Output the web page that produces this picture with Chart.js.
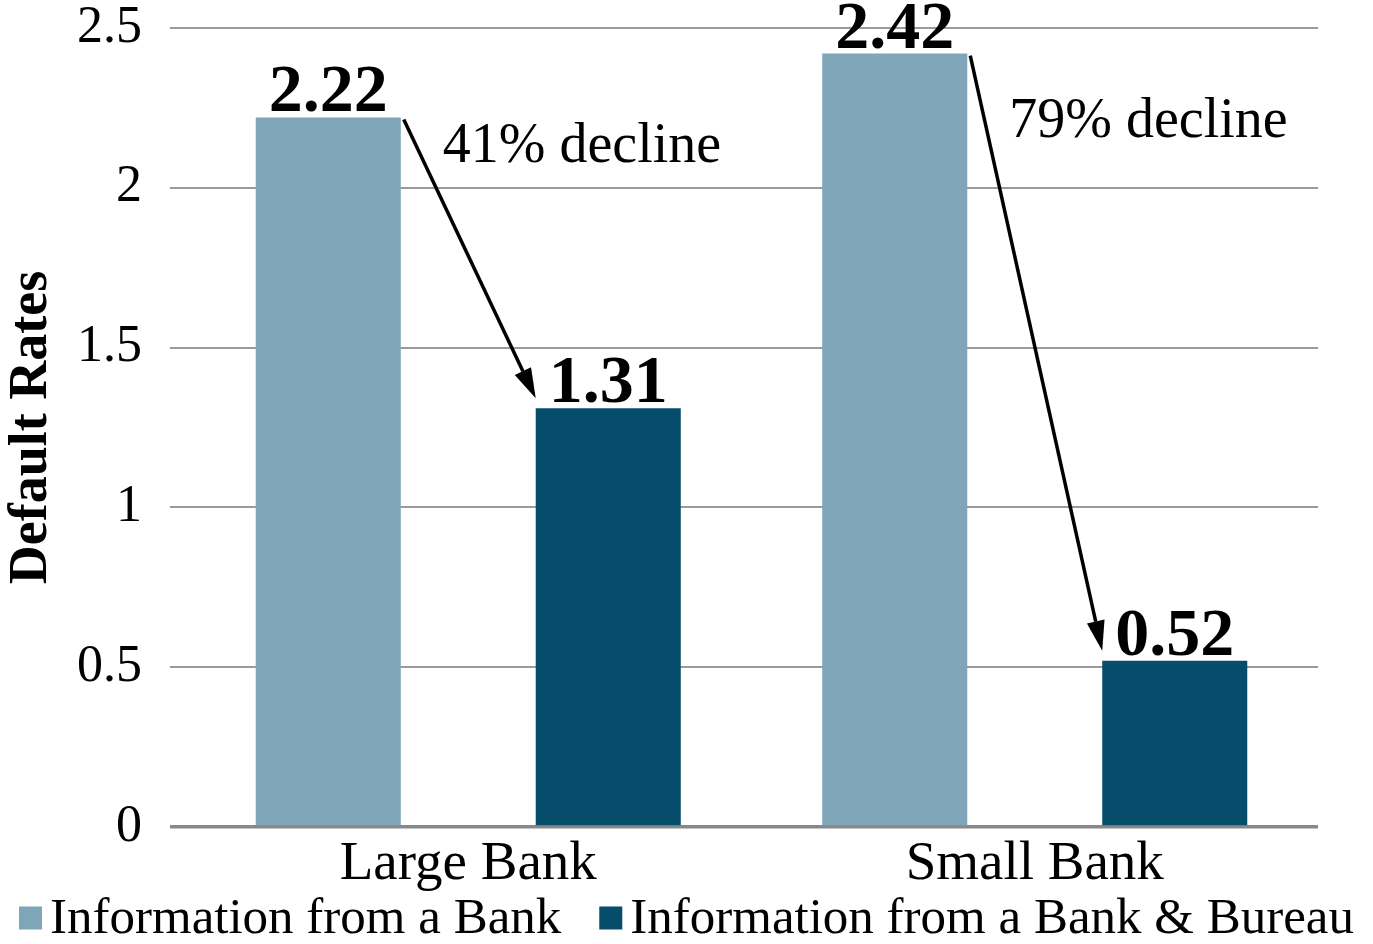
<!DOCTYPE html>
<html>
<head>
<meta charset="utf-8">
<title>Default Rates</title>
<script src="https://cdn.jsdelivr.net/npm/chart.js@4"></script>
<style>
  html, body { margin: 0; padding: 0; background: #fff; }
  #wrap { width: 1373px; height: 944px; }
</style>
</head>
<body>
<div id="wrap"><canvas id="chart"></canvas></div>
<script>
// Default rates by bank size, before and after adding bureau data
const categories = ['Large Bank', 'Small Bank'];
const seriesNames = ['Information from a Bank', 'Information from a Bank & Bureau'];
const bankOnly = [2.22, 2.42];
const bankAndBureau = [1.31, 0.52];
const declineNotes = ['41% decline', '79% decline'];
const noteLevels = [2.08, 2.16]; // text baseline of each note, axis units

const SERIF = '"Liberation Serif", "Times New Roman", serif';
const COLORS = ['#7fa5b8', '#064c6b'];

// Arrow with a filled head
function drawArrow(ctx, x0, y0, x1, y1) {
  const ang = Math.atan2(y1 - y0, x1 - x0);
  const head = 30, half = 9;
  const bx = x1 - head * Math.cos(ang), by = y1 - head * Math.sin(ang);
  ctx.beginPath();
  ctx.moveTo(x0, y0);
  ctx.lineTo(bx, by);
  ctx.lineWidth = 3.5;
  ctx.strokeStyle = '#000';
  ctx.stroke();
  ctx.beginPath();
  ctx.moveTo(x1, y1);
  ctx.lineTo(bx + half * Math.sin(ang), by - half * Math.cos(ang));
  ctx.lineTo(bx - half * Math.sin(ang), by + half * Math.cos(ang));
  ctx.closePath();
  ctx.fillStyle = '#000';
  ctx.fill();
}

// Value labels on top of the bars, plus the decline arrows and notes
const annotate = {
  id: 'annotate',
  afterDatasetsDraw(chart) {
    const ctx = chart.ctx;
    const yScale = chart.scales.y;
    const bars0 = chart.getDatasetMeta(0).data;
    const bars1 = chart.getDatasetMeta(1).data;
    ctx.save();
    ctx.fillStyle = '#000';
    ctx.font = 'bold 68px ' + SERIF;
    ctx.textAlign = 'center';
    ctx.textBaseline = 'alphabetic';
    bars0.forEach((bar, i) => ctx.fillText(bankOnly[i].toFixed(2), bar.x, bar.y - 6));
    bars1.forEach((bar, i) => ctx.fillText(bankAndBureau[i].toFixed(2), bar.x, bar.y - 6));

    categories.forEach((c, i) => {
      const a = bars0[i], b = bars1[i];
      drawArrow(ctx, a.x + a.width / 2 + 3, a.y + 2, b.x - b.width / 2, b.y - 10);
      ctx.font = '56px ' + SERIF;
      ctx.textAlign = 'left';
      ctx.fillStyle = '#000';
      ctx.fillText(declineNotes[i], a.x + a.width / 2 + 42, yScale.getPixelForValue(noteLevels[i]));
    });
    ctx.restore();
  }
};

// Single-row legend under the category labels
const bottomLegend = {
  id: 'bottomLegend',
  afterDraw(chart) {
    const ctx = chart.ctx;
    const box = 23, gap = 8, itemGap = 38, cy = 918;
    ctx.save();
    ctx.font = '51px ' + SERIF;
    ctx.textBaseline = 'middle';
    ctx.textAlign = 'left';
    const widths = seriesNames.map(s => ctx.measureText(s).width);
    const total = widths.reduce((s, w) => s + box + gap + w, 0) + itemGap * (seriesNames.length - 1);
    let x = (chart.width - total) / 2;
    seriesNames.forEach((name, i) => {
      ctx.fillStyle = COLORS[i];
      ctx.fillRect(x, cy - box / 2, box, box);
      ctx.fillStyle = '#000';
      ctx.fillText(name, x + box + gap, cy + 2);
      x += box + gap + widths[i] + itemGap;
    });
    ctx.restore();
  }
};

new Chart(document.getElementById('chart'), {
  type: 'bar',
  data: {
    labels: categories,
    datasets: seriesNames.map((name, i) => ({
      label: name,
      data: i === 0 ? bankOnly : bankAndBureau,
      backgroundColor: COLORS[i],
      borderWidth: 0,
      categoryPercentage: 0.9885,
      barPercentage: 0.518
    }))
  },
  options: {
    responsive: true,
    maintainAspectRatio: false,
    devicePixelRatio: 1,
    animation: false,
    layout: {
      padding: { top: 0, right: 55, bottom: 50, left: 0 }
    },
    plugins: {
      tooltip: { enabled: false },
      legend: { display: false }
    },
    scales: {
      x: {
        grid: { display: false },
        border: { display: false },
        ticks: {
          color: '#000',
          padding: 2,
          font: { family: SERIF, size: 55, lineHeight: 1.0 }
        }
      },
      y: {
        min: 0,
        max: 2.5,
        afterFit(scale) {
          scale.width = 185;
          scale.paddingTop = 28;
          scale.paddingBottom = 0;
        },
        border: { display: false },
        grid: {
          drawTicks: true,
          tickLength: 15,
          color: ctx => ctx.tick && ctx.tick.value === 0 ? '#888' : '#9a9a9a',
          lineWidth: ctx => ctx.tick && ctx.tick.value === 0 ? 3.5 : 2
        },
        ticks: {
          stepSize: 0.5,
          color: '#000',
          padding: 28,
          callback: v => String(v),
          font: { family: SERIF, size: 52 }
        },
        title: {
          display: true,
          text: 'Default Rates',
          color: '#000',
          padding: 0,
          font: { family: SERIF, size: 54, weight: 'bold' }
        }
      }
    }
  },
  plugins: [annotate, bottomLegend]
});
</script>
</body>
</html>
